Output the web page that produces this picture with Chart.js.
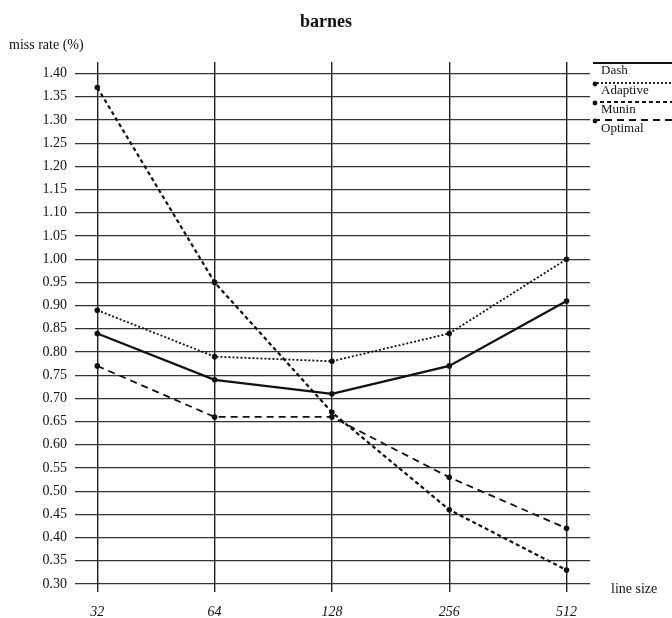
<!DOCTYPE html>
<html>
<head>
<meta charset="utf-8">
<script src="https://cdn.jsdelivr.net/npm/chart.js@4"></script>
<style>
  html, body { margin: 0; padding: 0; background: #fff; }
  #wrap { width: 672px; height: 618px; }
</style>
</head>
<body>
<div id="wrap"><canvas id="missChart" width="672" height="618"></canvas></div>
<script>
// ==========================================
// DATA
// ==========================================
const lineSizes = ['32', '64', '128', '256', '512'];
const yTicks = [0.30, 0.35, 0.40, 0.45, 0.50, 0.55, 0.60, 0.65, 0.70, 0.75, 0.80, 0.85,
                0.90, 0.95, 1.00, 1.05, 1.10, 1.15, 1.20, 1.25, 1.30, 1.35, 1.40];

const dashRate     = [0.84, 0.74, 0.71, 0.77, 0.91];
const adaptiveRate = [0.89, 0.79, 0.78, 0.84, 1.00];
const muninRate    = [1.37, 0.95, 0.67, 0.46, 0.33];
const optimalRate  = [0.77, 0.66, 0.66, 0.53, 0.42];

const seriesNames = ['Dash', 'Adaptive', 'Munin', 'Optimal'];
const seriesDash  = [[], [2, 2], [4, 3], [7, 5]];
const seriesWidth = [2.2, 1.8, 2.2, 1.8];

const FONT = '"Liberation Serif", "DejaVu Serif", serif';

function toPoints(values) {
    return values.map((v, i) => ({ x: i, y: v }));
}

// Titles, axis captions and legend drawn like the original print
const decorPlugin = {
    id: 'decor',
    afterDraw(chart) {
        const ctx = chart.ctx;
        ctx.save();
        ctx.fillStyle = '#111';
        ctx.textBaseline = 'middle';

        ctx.font = 'bold 18px ' + FONT;
        ctx.textAlign = 'center';
        ctx.fillText('barnes', 326, 22);

        ctx.font = '14px ' + FONT;
        ctx.textAlign = 'left';
        ctx.fillText('miss rate (%)', 9, 45);
        ctx.fillText('line size', 611, 589);

        // legend: sample line on top, label below
        const lineY = [63, 83, 102, 120];
        const textY = [71, 91, 110, 129];
        seriesNames.forEach((name, i) => {
            ctx.beginPath();
            ctx.setLineDash(seriesDash[i]);
            ctx.lineWidth = seriesWidth[i];
            ctx.strokeStyle = '#111';
            ctx.moveTo(593, lineY[i]);
            ctx.lineTo(672, lineY[i]);
            ctx.stroke();
            ctx.setLineDash([]);
            if (i > 0) {
                ctx.beginPath();
                ctx.arc(595, lineY[i] + 1, 2.4, 0, Math.PI * 2);
                ctx.fill();
            }
            ctx.font = '13px ' + FONT;
            ctx.fillText(name, 601, textY[i]);
        });
        ctx.restore();
    }
};

const allSeries = [dashRate, adaptiveRate, muninRate, optimalRate];

new Chart(document.getElementById('missChart'), {
    type: 'line',
    data: {
        datasets: allSeries.map((vals, i) => ({
            label: seriesNames[i],
            data: toPoints(vals),
            borderColor: '#111',
            backgroundColor: '#111',
            borderWidth: seriesWidth[i],
            borderDash: seriesDash[i],
            pointRadius: 2.8,
            pointBackgroundColor: '#111',
            pointBorderWidth: 0,
            tension: 0,
            fill: false
        }))
    },
    options: {
        responsive: false,
        animation: false,
        layout: { padding: { top: 62, right: 82, left: 0, bottom: 0 } },
        plugins: {
            legend: { display: false },
            title: { display: false },
            tooltip: { enabled: false }
        },
        scales: {
            x: {
                type: 'linear',
                min: -0.19,
                max: 4.2,
                afterBuildTicks: scale => { scale.ticks = lineSizes.map((_, i) => ({ value: i })); },
                afterFit: scale => { scale.height = 34; },
                ticks: {
                    callback: v => lineSizes[v],
                    color: '#111',
                    font: { family: FONT, size: 14, style: 'italic' },
                    padding: 12,
                    maxRotation: 0
                },
                grid: {
                    color: '#222',
                    lineWidth: 1.4,
                    tickLength: 8,
                    tickColor: '#222'
                },
                border: { display: false }
            },
            y: {
                min: 0.30,
                max: 1.425,
                afterBuildTicks: scale => { scale.ticks = yTicks.map(v => ({ value: v })); },
                afterFit: scale => { scale.width = 75; },
                ticks: {
                    callback: v => v.toFixed(2),
                    color: '#111',
                    font: { family: FONT, size: 14 },
                    padding: 8
                },
                grid: {
                    color: '#333',
                    lineWidth: 1.3,
                    drawTicks: false
                },
                border: { display: false }
            }
        }
    },
    plugins: [decorPlugin]
});
</script>
</body>
</html>
